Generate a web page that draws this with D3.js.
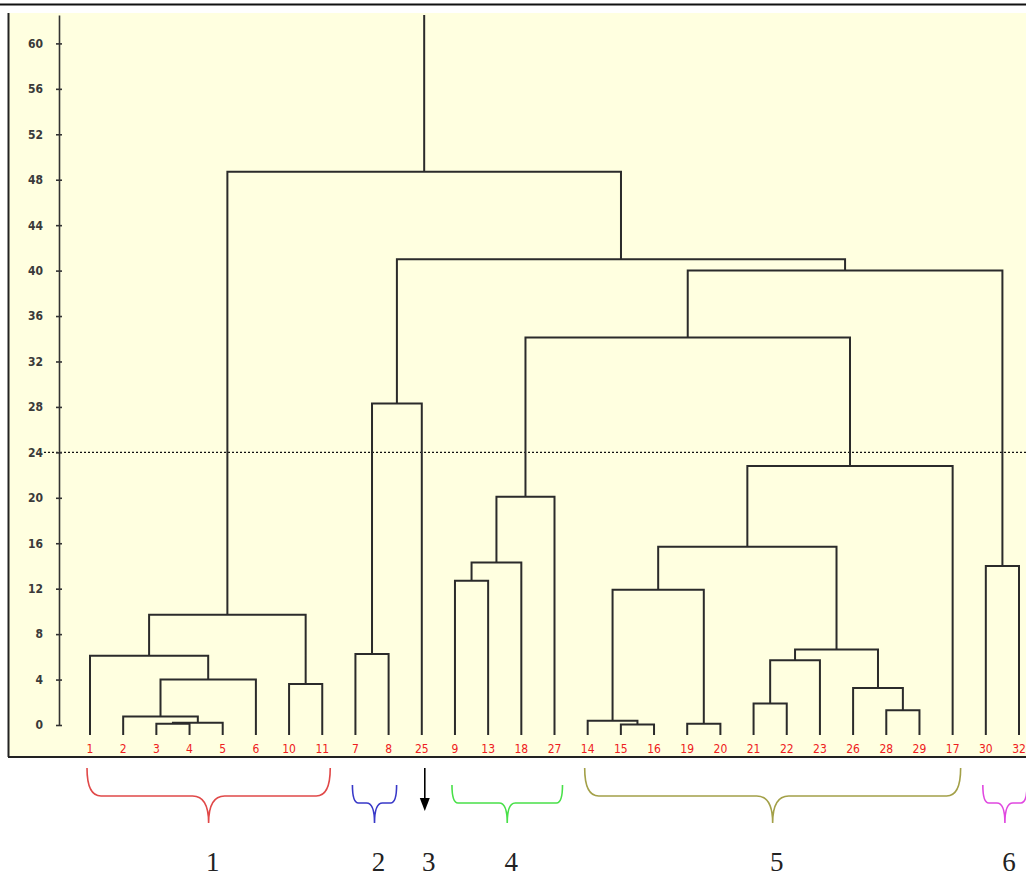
<!DOCTYPE html>
<html>
<head>
<meta charset="utf-8">
<script src="https://cdn.jsdelivr.net/npm/d3@7"></script>
<style>
  body { margin: 0; background: #fff; }
</style>
</head>
<body>
<svg id="chart" width="1026" height="878"></svg>
<script>

// leaves as they sit along the bottom, left to right
const leafOrder = ["1", "2", "3", "4", "5", "6", "10", "11", "7", "8", "25", "9", "13", "18", "27",
                   "14", "15", "16", "19", "20", "21", "22", "23", "26", "28", "29", "17", "30", "32"];

// linkage rows: [left, right, height]; a string is a leaf, a number is an earlier row
const merges = [
    ["3", "4", 0.1],
    [0, "5", 0.2],
    ["2", 1, 0.75],
    [2, "6", 4.0],
    ["1", 3, 6.1],
    ["10", "11", 3.6],
    [4, 5, 9.7],
    ["7", "8", 6.25],
    [7, "25", 28.3],
    ["9", "13", 12.7],
    [9, "18", 14.3],
    [10, "27", 20.1],
    ["15", "16", 0.05],
    ["14", 12, 0.38],
    ["19", "20", 0.1],
    [13, 14, 11.9],
    ["21", "22", 1.9],
    [16, "23", 5.7],
    ["28", "29", 1.3],
    ["26", 18, 3.25],
    [17, 19, 6.65],
    [15, 20, 15.7],
    [21, "17", 22.8],
    [11, 22, 34.1],
    ["30", "32", 14.0],
    [23, 24, 40.0],
    [8, 25, 41.0],
    [6, 26, 48.7]
];

const yTicks = [0, 4, 8, 12, 16, 20, 24, 28, 32, 36, 40, 44, 48, 52, 56, 60];
const cutHeight = 24;
const axisTop = 62.5;

// groups marked under the leaves
const groupNames = ["1", "2", "3", "4", "5", "6"];
const groupFirst = ["1", "7", "25", "9", "14", "30"];
const groupLast = ["11", "8", "25", "27", "17", "32"];
const groupColors = ["#e04848", "#3838c8", "#000000", "#48e048", "#a3a048", "#e048e0"];

const width = 1026, height = 878;
const svg = d3.select("#chart");

let x = d3.scalePoint().domain(leafOrder).range([90, 1019]);
let y = d3.scaleLinear().domain([0, axisTop]).range([725, 15]);

// panel
svg.append("rect")
    .attr("x", 8).attr("y", 13)
    .attr("width", width - 8).attr("height", 744)
    .attr("fill", "#ffffe0");

svg.append("line").attr("x1", 0).attr("x2", width).attr("y1", 4.5).attr("y2", 4.5)
    .attr("stroke", "#111").attr("stroke-width", 2);
svg.append("line").attr("x1", 8.5).attr("x2", 8.5).attr("y1", 13).attr("y2", 757)
    .attr("stroke", "#222").attr("stroke-width", 2);
svg.append("line").attr("x1", 8).attr("x2", width).attr("y1", 757).attr("y2", 757)
    .attr("stroke", "#222").attr("stroke-width", 2);

// cut line
svg.append("line")
    .attr("x1", 44).attr("x2", width)
    .attr("y1", y(cutHeight)).attr("y2", y(cutHeight))
    .attr("stroke", "#111").attr("stroke-width", 1.3)
    .attr("stroke-dasharray", "2,2");

// y axis
let yAxis = d3.axisLeft(y).tickValues(yTicks).tickSize(3).tickSizeOuter(0).tickPadding(13);
let gy = svg.append("g").attr("transform", "translate(59,0)").call(yAxis);
gy.select(".domain").attr("stroke", "#333").attr("stroke-width", 1.6);
gy.selectAll(".tick line").attr("x1", 3).attr("stroke", "#333").attr("stroke-width", 1.6);
gy.selectAll(".tick text")
    .attr("font-family", "'DejaVu Sans Condensed', 'Liberation Sans Narrow', sans-serif")
    .attr("font-size", 12)
    .attr("font-weight", "bold")
    .attr("fill", "#3a3a3a");

// build node positions from the linkage rows
const leafBottom = y(0) + 10;
let nodes = [];
function ref(r) {
    if (typeof r === "number") return nodes[r];
    return { x: x(r), top: leafBottom };
}
merges.forEach((m, i) => {
    let a = ref(m[0]), b = ref(m[1]);
    nodes[i] = { x: (a.x + b.x) / 2, top: y(m[2]), a: a, b: b };
});

let links = svg.append("g")
    .attr("fill", "none")
    .attr("stroke", "#2b2b2b")
    .attr("stroke-width", 2);

links.selectAll("path")
    .data(nodes)
    .join("path")
    .attr("d", (d) => `M${d.a.x},${d.a.top}V${d.top}H${d.b.x}V${d.b.top}`);

// root stem up to the top of the axis
let root = nodes[nodes.length - 1];
links.append("path").attr("d", `M${root.x},${root.top}V${y(axisTop)}`);

// leaf labels
svg.append("g")
    .selectAll("text")
    .data(leafOrder)
    .join("text")
    .attr("x", (d) => x(d))
    .attr("y", 753)
    .attr("text-anchor", "middle")
    .attr("font-family", "'DejaVu Sans Condensed', 'Liberation Sans Narrow', sans-serif")
    .attr("font-size", 12)
    .attr("fill", "#ee2020")
    .text((d) => d);

// braces / arrow under each group
function bracePath(x0, x1, wide) {
    let xm = (x0 + x1) / 2;
    let yTop = wide ? 768 : 785;
    let yMid = wide ? 796 : 803;
    let yTip = 823;
    let r = wide ? 14 : 6;
    let r2 = wide ? 16 : 8;
    return `M${x0},${yTop}Q${x0},${yMid} ${x0 + r},${yMid}` +
        `L${xm - r2},${yMid}Q${xm},${yMid} ${xm},${yTip}` +
        `Q${xm},${yMid} ${xm + r2},${yMid}` +
        `L${x1 - r},${yMid}Q${x1},${yMid} ${x1},${yTop}`;
}

let groups = svg.append("g");
groupNames.forEach((name, i) => {
    let x0 = x(groupFirst[i]), x1 = x(groupLast[i]);
    let xm = (x0 + x1) / 2;
    if (groupFirst[i] === groupLast[i]) {
        xm = x0 + 3;
        groups.append("line")
            .attr("x1", xm).attr("x2", xm).attr("y1", 768).attr("y2", 800)
            .attr("stroke", groupColors[i]).attr("stroke-width", 1.6);
        groups.append("path")
            .attr("d", `M${xm - 5},${798}L${xm + 5},${798}L${xm},${811}Z`)
            .attr("fill", groupColors[i]);
    } else {
        let a = x0 - 3, b = x1 + 8;
        xm = (a + b) / 2;
        groups.append("path")
            .attr("d", bracePath(a, b, b - a > 150))
            .attr("fill", "none")
            .attr("stroke", groupColors[i])
            .attr("stroke-width", 1.6);
    }
    groups.append("text")
        .attr("x", xm + 4)
        .attr("y", 871)
        .attr("text-anchor", "middle")
        .attr("font-family", "'Liberation Serif', 'DejaVu Serif', serif")
        .attr("font-size", 27)
        .attr("fill", "#222")
        .text(name);
});

</script>
</body>
</html>
